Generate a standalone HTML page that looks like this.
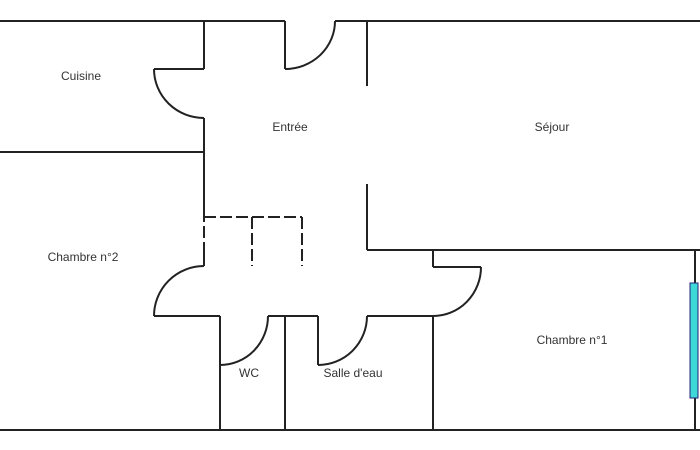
<!DOCTYPE html>
<html><head><meta charset="utf-8"><style>html,body{margin:0;padding:0;background:#fff}svg{display:block}text{font-family:"Liberation Sans",sans-serif;font-size:12px;fill:#333}</style></head>
<body>
<svg width="700" height="450" viewBox="0 0 700 450" xmlns="http://www.w3.org/2000/svg">
<g stroke="#222" stroke-width="2" fill="none">
<line x1="0" y1="21" x2="285" y2="21"/>
<line x1="335" y1="21" x2="700" y2="21"/>
<line x1="204" y1="21" x2="204" y2="69"/>
<line x1="154" y1="69" x2="204" y2="69"/>
<path d="M154,69 A50,49 0 0 0 204,118"/>
<line x1="204" y1="118" x2="204" y2="210"/>
<line x1="0" y1="152" x2="204" y2="152"/>
<line x1="285" y1="21" x2="285" y2="69"/>
<path d="M285,69 A50,48 0 0 0 335,21"/>
<line x1="367" y1="21" x2="367" y2="86"/>
<line x1="367" y1="184" x2="367" y2="250"/>
<line x1="367" y1="250" x2="700" y2="250"/>
<line x1="204" y1="250" x2="204" y2="266"/>
<path d="M204,266 A50,50 0 0 0 154,316"/>
<line x1="154" y1="316" x2="220" y2="316"/>
<line x1="220" y1="316" x2="220" y2="430"/>
<path d="M220,365 A48,49 0 0 0 268,316"/>
<line x1="268" y1="316" x2="318" y2="316"/>
<line x1="285" y1="316" x2="285" y2="430"/>
<line x1="318" y1="316" x2="318" y2="365"/>
<path d="M318,365 A49,49 0 0 0 367,316"/>
<line x1="367" y1="316" x2="433" y2="316"/>
<line x1="433" y1="250" x2="433" y2="267"/>
<line x1="433" y1="267" x2="481" y2="267"/>
<path d="M481,267 A48,49 0 0 1 433,316"/>
<line x1="433" y1="316" x2="433" y2="430"/>
<line x1="695" y1="250" x2="695" y2="430"/>
<line x1="0" y1="430" x2="700" y2="430"/>
</g>
<g stroke="#222" stroke-width="2" fill="none" stroke-dasharray="12,4">
<line x1="204" y1="210" x2="204" y2="266"/>
<line x1="204" y1="217" x2="302" y2="217"/>
<line x1="252" y1="217" x2="252" y2="266"/>
<line x1="302" y1="217" x2="302" y2="266"/>
<line x1="367" y1="184" x2="367" y2="250"/>
</g>
<rect x="690" y="283" width="8" height="115" fill="#3fd8d8" stroke="#227" stroke-width="1"/>
<text x="81" y="80" text-anchor="middle">Cuisine</text>
<text x="290" y="131" text-anchor="middle">Entrée</text>
<text x="552" y="131" text-anchor="middle">Séjour</text>
<text x="83" y="261" text-anchor="middle">Chambre n°2</text>
<text x="572" y="344" text-anchor="middle">Chambre n°1</text>
<text x="249" y="377" text-anchor="middle">WC</text>
<text x="353" y="377" text-anchor="middle">Salle d'eau</text>
</svg>
</body></html>
